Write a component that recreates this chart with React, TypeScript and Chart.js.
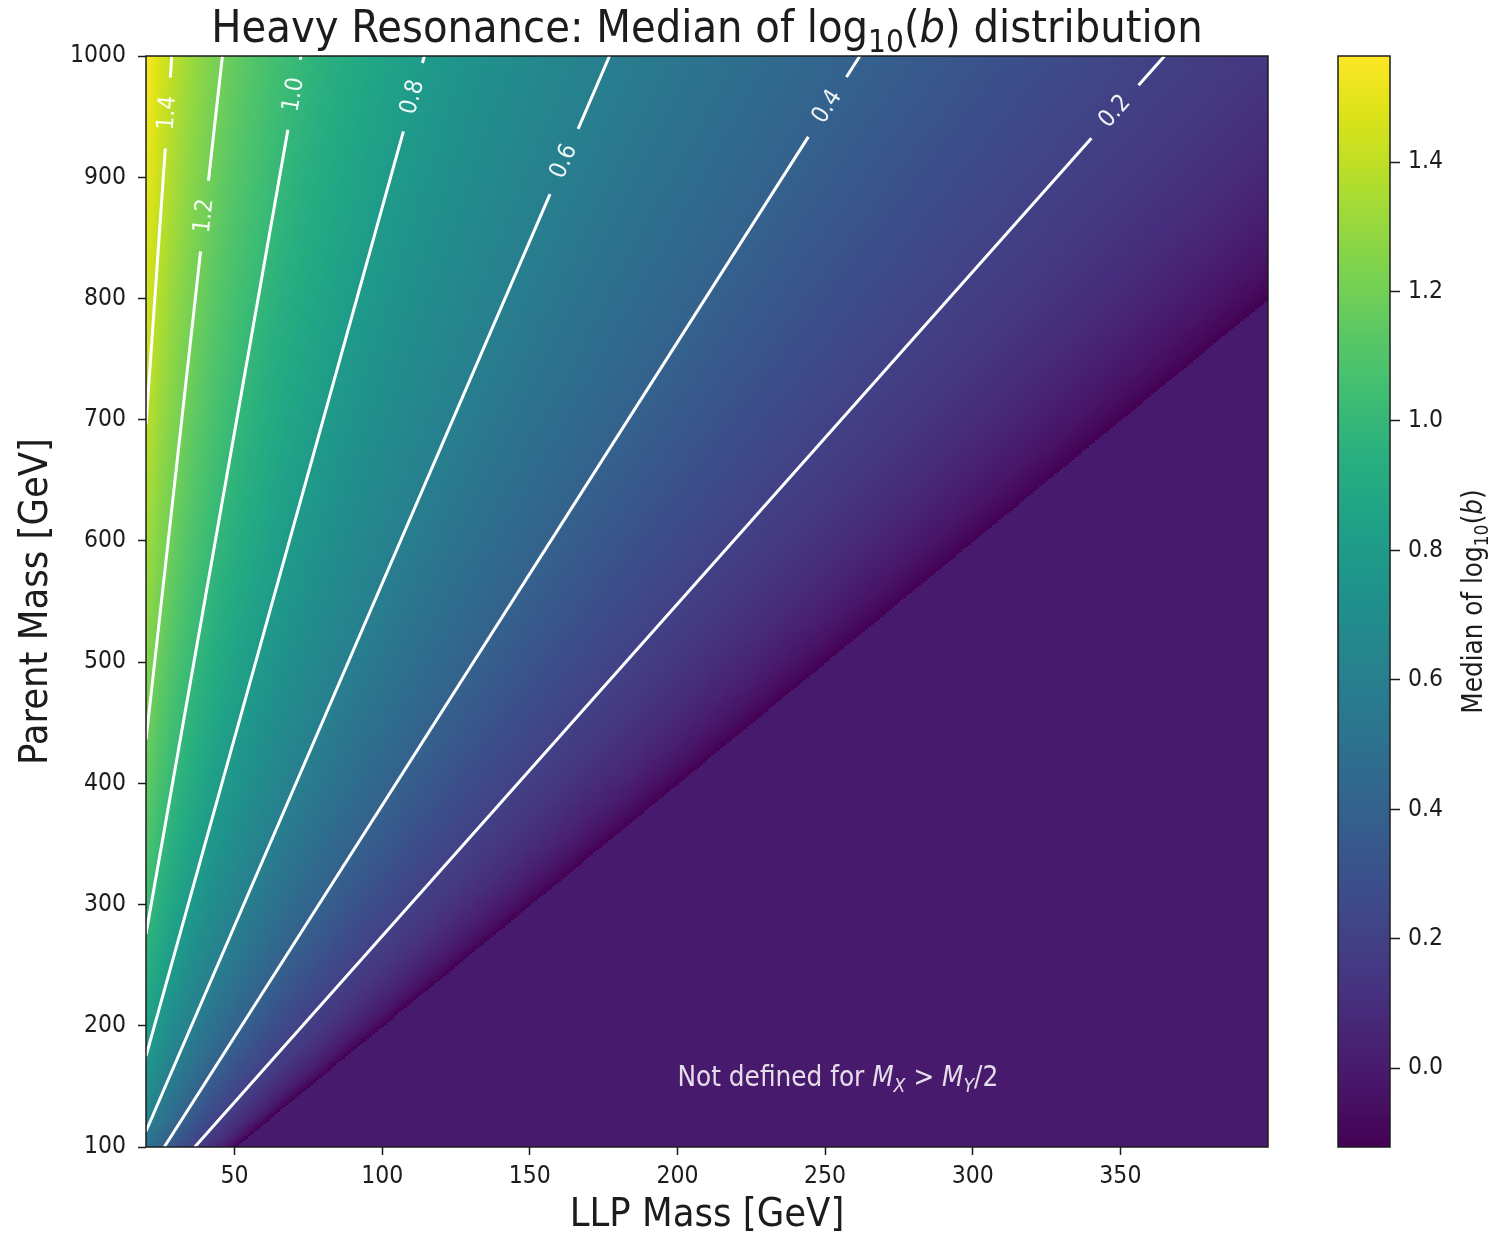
import { useEffect, useRef } from 'react';
import { Chart, registerables } from 'chart.js';

Chart.register(...registerables);

const FONT = '"DejaVu Sans Condensed", "DejaVu Sans", sans-serif';
const MATH_FONT = '"DejaVu Sans", sans-serif';
const INK = '#1c1c1c';

// Scan of LLP mass (x) and parent mass (y), GeV
const llpMassLimits = [20, 400];
const parentMassLimits = [100, 1000];
const llpMassStep = 1;
const parentMassStep = 2;

const llpMassTicks = [50, 100, 150, 200, 250, 300, 350];
const parentMassTicks = [100, 200, 300, 400, 500, 600, 700, 800, 900, 1000];
const colorbarTicks = [0.0, 0.2, 0.4, 0.6, 0.8, 1.0, 1.2, 1.4];
const colorLimits = [-0.122, 1.564];

// Median of log10(b) versus the mass ratio M_Y / M_X
const thresholdRatios = [2.0, 2.03, 2.1, 2.2, 2.35, 2.5];
const thresholdMedians = [-0.122, -0.085, -0.025, 0.035, 0.1, 0.145];
const contourLevels = [0.2, 0.4, 0.6, 0.8, 1.0, 1.2, 1.4];
const contourRatios = [2.74, 3.82, 5.65, 8.75, 13.8, 21.8, 34.8];
const cornerRatio = 50;
const cornerMedian = 1.564;
// parent mass where each contour carries its inline label
const contourLabelParentMass = [954, 958, 913, 966, 968, 868, 953];
// value shown where M_X > M_Y / 2
const undefinedMedian = 0.0;

const viridisStops = [
  '#440154', '#481467', '#482576', '#453781', '#404688', '#39558C', '#33638D',
  '#2D718E', '#287D8E', '#238A8D', '#1F968B', '#20A386', '#29AF7F', '#3DBC74',
  '#56C667', '#75D054', '#95D840', '#BADE28', '#DDE318', '#FDE725',
];

const ratioTable = [...thresholdRatios, ...contourRatios, cornerRatio];
const medianTable = [...thresholdMedians, ...contourLevels, cornerMedian];

function medianAt(ratio: number): number {
  if (ratio < 2) return undefinedMedian;
  const n = ratioTable.length;
  let i = 0;
  while (i < n - 2 && ratio > ratioTable[i + 1]) i++;
  const a = Math.log(ratioTable[i]);
  const b = Math.log(ratioTable[i + 1]);
  const t = (Math.log(ratio) - a) / (b - a);
  return medianTable[i] + t * (medianTable[i + 1] - medianTable[i]);
}

const stopRGB = viridisStops.map((h) => [
  parseInt(h.slice(1, 3), 16),
  parseInt(h.slice(3, 5), 16),
  parseInt(h.slice(5, 7), 16),
]);

function viridisAt(t: number): number[] {
  const pos = Math.min(Math.max(t, 0), 1) * (stopRGB.length - 1);
  const i = Math.min(Math.floor(pos), stopRGB.length - 2);
  const f = pos - i;
  return [0, 1, 2].map((c) => Math.round(stopRGB[i][c] + f * (stopRGB[i + 1][c] - stopRGB[i][c])));
}

const LUT_SIZE = 1024;
const colorLUT = Array.from({ length: LUT_SIZE }, (_, k) => {
  const [r, g, b] = viridisAt(k / (LUT_SIZE - 1));
  return `rgb(${r},${g},${b})`;
});

function colorFor(value: number): string {
  const [lo, hi] = colorLimits;
  const t = Math.min(Math.max((value - lo) / (hi - lo), 0), 1);
  return colorLUT[Math.round(t * (LUT_SIZE - 1))];
}

type Run = { text: string; italic?: boolean; math?: boolean; scale?: number; shift?: number };

function runFont(run: Run, size: number): string {
  return `${run.italic ? 'italic ' : ''}${(size * (run.scale ?? 1)).toFixed(2)}px ${run.math ? MATH_FONT : FONT}`;
}

function drawRuns(ctx: CanvasRenderingContext2D, runs: Run[], x: number, y: number, size: number, align: 'left' | 'center') {
  ctx.textBaseline = 'alphabetic';
  ctx.textAlign = 'left';
  const widths = runs.map((r) => {
    ctx.font = runFont(r, size);
    return ctx.measureText(r.text).width;
  });
  const total = widths.reduce((s, w) => s + w, 0);
  let cx = align === 'center' ? x - total / 2 : x;
  runs.forEach((r, i) => {
    ctx.font = runFont(r, size);
    ctx.fillText(r.text, cx, y + (r.shift ?? 0) * size);
    cx += widths[i];
  });
}

const titleRuns: Run[] = [
  { text: 'Heavy Resonance: Median of log' },
  { text: '10', scale: 0.7, shift: 0.22 },
  { text: '(' },
  { text: 'b', italic: true },
  { text: ') distribution' },
];
const colorbarLabelRuns: Run[] = [
  { text: 'Median of log' },
  { text: '10', scale: 0.7, shift: 0.22 },
  { text: '(' },
  { text: 'b', italic: true },
  { text: ')' },
];
const noteRuns: Run[] = [
  { text: 'Not defined for ' },
  { text: 'M', italic: true },
  { text: 'X', italic: true, scale: 0.7, shift: 0.2 },
  { text: ' > ' },
  { text: 'M', italic: true },
  { text: 'Y', italic: true, scale: 0.7, shift: 0.2 },
  { text: '/2' },
];
const notePosition = [200, 150];

function gridCentres(limits: number[], step: number): number[] {
  const out: number[] = [];
  for (let v = limits[0]; v <= limits[1] + 1e-9; v += step) out.push(v);
  return out;
}

const medianGridPlugin = {
  id: 'medianGrid',
  beforeDatasetsDraw(chart: any) {
    const { ctx, chartArea: a } = chart;
    const xs = chart.scales.x;
    const ys = chart.scales.y;
    const llp = gridCentres(llpMassLimits, llpMassStep);
    const parent = gridCentres(parentMassLimits, parentMassStep);
    const xe = llp.map((m) => Math.round(xs.getPixelForValue(m - llpMassStep / 2)));
    xe.push(Math.round(xs.getPixelForValue(llp[llp.length - 1] + llpMassStep / 2)));
    const ye = parent.map((p) => Math.round(ys.getPixelForValue(p - parentMassStep / 2)));
    ye.push(Math.round(ys.getPixelForValue(parent[parent.length - 1] + parentMassStep / 2)));
    ctx.save();
    ctx.beginPath();
    ctx.rect(a.left, a.top, a.right - a.left, a.bottom - a.top);
    ctx.clip();
    for (let i = 0; i < llp.length; i++) {
      for (let j = 0; j < parent.length; j++) {
        ctx.fillStyle = colorFor(medianAt(parent[j] / llp[i]));
        ctx.fillRect(xe[i], ye[j + 1], xe[i + 1] - xe[i], ye[j] - ye[j + 1]);
      }
    }
    ctx.restore();
  },
  afterDatasetsDraw(chart: any) {
    const { ctx, chartArea: a } = chart;
    const xs = chart.scales.x;
    const ys = chart.scales.y;
    const px = (x: number, y: number) => [xs.getPixelForValue(x), ys.getPixelForValue(y)];
    const halfGap = 35.5;

    ctx.save();
    ctx.beginPath();
    ctx.rect(a.left, a.top, a.right - a.left, a.bottom - a.top);
    ctx.clip();
    contourLevels.forEach((level, k) => {
      const r = contourRatios[k];
      const x0 = Math.max(llpMassLimits[0], parentMassLimits[0] / r);
      const x1 = Math.min(llpMassLimits[1], parentMassLimits[1] / r);
      const p0 = px(x0, r * x0);
      const p1 = px(x1, r * x1);
      const ly = contourLabelParentMass[k];
      const pc = px(ly / r, ly);
      const len = Math.hypot(p1[0] - p0[0], p1[1] - p0[1]);
      const dx = (p1[0] - p0[0]) / len;
      const dy = (p1[1] - p0[1]) / len;
      ctx.strokeStyle = '#ffffff';
      ctx.lineWidth = 3;
      ctx.lineCap = 'butt';
      ctx.beginPath();
      ctx.moveTo(p0[0], p0[1]);
      ctx.lineTo(pc[0] - dx * halfGap, pc[1] - dy * halfGap);
      ctx.moveTo(pc[0] + dx * halfGap, pc[1] + dy * halfGap);
      ctx.lineTo(p1[0], p1[1]);
      ctx.stroke();

      ctx.save();
      ctx.translate(pc[0], pc[1]);
      ctx.rotate(Math.atan2(dy, dx));
      ctx.fillStyle = 'rgba(255,255,255,0.92)';
      ctx.font = `24px ${FONT}`;
      ctx.textAlign = 'center';
      ctx.textBaseline = 'middle';
      ctx.fillText(level.toFixed(1), 0, 0);
      ctx.restore();
    });

    const np = px(notePosition[0], notePosition[1]);
    ctx.fillStyle = 'rgba(255,255,255,0.86)';
    drawRuns(ctx, noteRuns, np[0], np[1], 27.6, 'left');
    ctx.restore();

    ctx.strokeStyle = INK;
    ctx.lineWidth = 1.5;
    ctx.strokeRect(a.left, a.top, a.right - a.left, a.bottom - a.top);
  },
  afterDraw(chart: any) {
    const { ctx, chartArea: a } = chart;
    const cx = (a.left + a.right) / 2;
    const cy = (a.top + a.bottom) / 2;
    ctx.save();
    ctx.fillStyle = INK;
    drawRuns(ctx, titleRuns, cx, 42, 44.7, 'center');
    drawRuns(ctx, [{ text: 'LLP Mass [GeV]' }], cx, 1226, 39.5, 'center');
    ctx.translate(47, cy);
    ctx.rotate(-Math.PI / 2);
    drawRuns(ctx, [{ text: 'Parent Mass [GeV]' }], 0, 0, 39.5, 'center');
    ctx.restore();
  },
};

const colorbarPlugin = {
  id: 'colorbarFill',
  beforeDatasetsDraw(chart: any) {
    const { ctx, chartArea: a } = chart;
    const ys = chart.scales.y;
    const [lo, hi] = colorLimits;
    const bands = 256;
    for (let k = 0; k < bands; k++) {
      const v0 = lo + ((hi - lo) * k) / bands;
      const v1 = lo + ((hi - lo) * (k + 1)) / bands;
      const y0 = Math.round(ys.getPixelForValue(v0));
      const y1 = Math.round(ys.getPixelForValue(v1));
      ctx.fillStyle = colorFor((v0 + v1) / 2);
      ctx.fillRect(a.left, y1, a.right - a.left, y0 - y1);
    }
    ctx.strokeStyle = INK;
    ctx.lineWidth = 1.5;
    ctx.strokeRect(a.left, a.top, a.right - a.left, a.bottom - a.top);
  },
  afterDraw(chart: any) {
    const { ctx, chartArea: a } = chart;
    ctx.save();
    ctx.fillStyle = INK;
    ctx.translate(181.5, (a.top + a.bottom) / 2);
    ctx.rotate(-Math.PI / 2);
    drawRuns(ctx, colorbarLabelRuns, 0, 0, 27.5, 'center');
    ctx.restore();
  },
};

const tickFont = { family: FONT, size: 24.5 };

export default function App() {
  const mainRef = useRef<HTMLCanvasElement>(null);
  const barRef = useRef<HTMLCanvasElement>(null);

  useEffect(() => {
    const main = new Chart(mainRef.current as HTMLCanvasElement, {
      type: 'scatter',
      data: { datasets: [] },
      options: {
        animation: false,
        responsive: false,
        devicePixelRatio: 1,
        layout: { padding: { left: 0, right: 32, top: 56, bottom: 0 } },
        plugins: { legend: { display: false }, tooltip: { enabled: false } },
        scales: {
          x: {
            type: 'linear',
            position: 'bottom',
            min: llpMassLimits[0],
            max: llpMassLimits[1],
            afterBuildTicks: (s: any) => {
              s.ticks = llpMassTicks.map((value) => ({ value }));
            },
            afterFit: (s: any) => {
              s.height = 89;
            },
            ticks: { font: tickFont, color: INK, padding: 7, autoSkip: false, maxRotation: 0, callback: (v: any) => String(v) },
            grid: { drawOnChartArea: false, drawTicks: true, tickLength: 8, tickWidth: 1.5, tickColor: INK },
            border: { display: false },
          },
          y: {
            type: 'linear',
            position: 'left',
            min: parentMassLimits[0],
            max: parentMassLimits[1],
            afterBuildTicks: (s: any) => {
              s.ticks = parentMassTicks.map((value) => ({ value }));
            },
            afterFit: (s: any) => {
              s.width = 146;
            },
            ticks: { font: tickFont, color: INK, padding: 12, autoSkip: false, callback: (v: any) => String(v) },
            grid: { drawOnChartArea: false, drawTicks: true, tickLength: 8, tickWidth: 1.5, tickColor: INK },
            border: { display: false },
          },
        },
      },
      plugins: [medianGridPlugin],
    } as any);

    const bar = new Chart(barRef.current as HTMLCanvasElement, {
      type: 'scatter',
      data: { datasets: [] },
      options: {
        animation: false,
        responsive: false,
        devicePixelRatio: 1,
        layout: { padding: { left: 38, right: 0, top: 56, bottom: 89 } },
        plugins: { legend: { display: false }, tooltip: { enabled: false } },
        scales: {
          x: { type: 'linear', display: false, min: 0, max: 1 },
          y: {
            type: 'linear',
            position: 'right',
            min: colorLimits[0],
            max: colorLimits[1],
            afterBuildTicks: (s: any) => {
              s.ticks = colorbarTicks.map((value) => ({ value }));
            },
            afterFit: (s: any) => {
              s.width = 98;
            },
            ticks: { font: tickFont, color: INK, padding: 8, autoSkip: false, callback: (v: any) => Number(v).toFixed(1) },
            grid: { drawOnChartArea: false, drawTicks: true, tickLength: 10, tickWidth: 1.5, tickColor: INK },
            border: { display: false },
          },
        },
      },
      plugins: [colorbarPlugin],
    } as any);

    return () => {
      main.destroy();
      bar.destroy();
    };
  }, []);

  return (
    <div style={{ position: 'absolute', left: 0, top: 0, width: 1488, height: 1236, background: '#ffffff' }}>
      <canvas ref={mainRef} width={1300} height={1236} style={{ position: 'absolute', left: 0, top: 0 }} />
      <canvas ref={barRef} width={188} height={1236} style={{ position: 'absolute', left: 1300, top: 0 }} />
    </div>
  );
}
